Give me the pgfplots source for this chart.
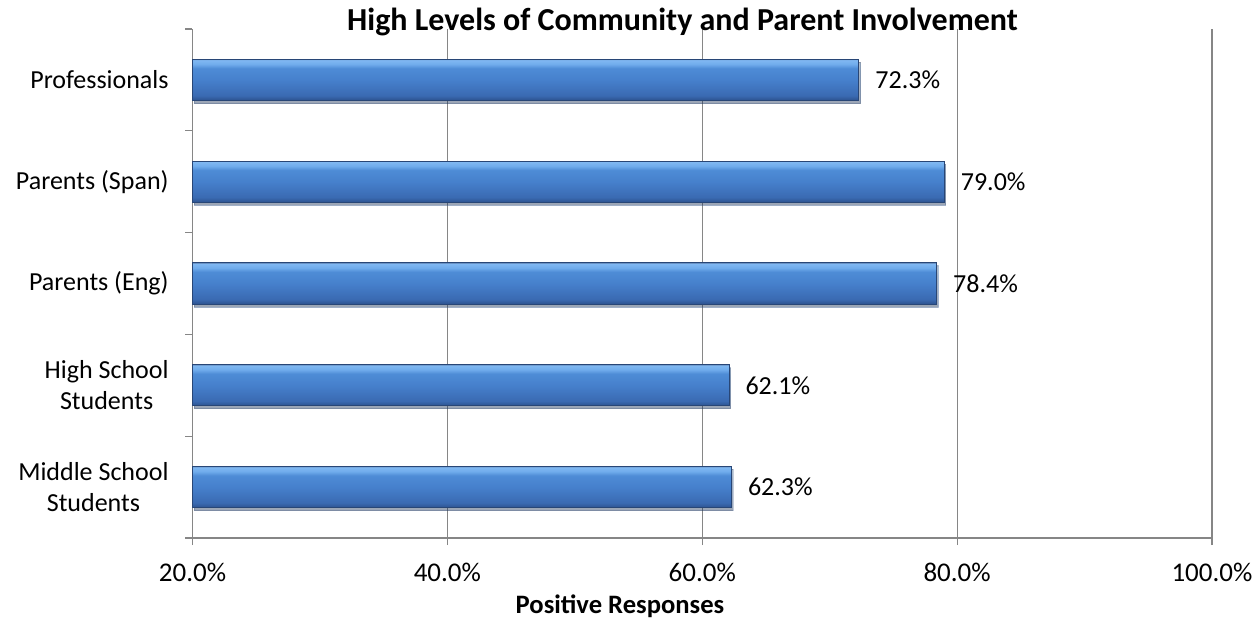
\documentclass[border=0pt]{standalone}
\usepackage{pgfplots}
\pgfplotsset{compat=1.18}
\usetikzlibrary{shadows}
\usepackage{fontspec}
\setmainfont{Carlito}
\definecolor{gridgray}{RGB}{134,134,134}
\definecolor{baredge}{RGB}{40,70,118}
\pgfdeclareverticalshading{barshade}{100bp}{
  color(0bp)=(rgb,255:red,44;green,82;blue,142);
  color(25bp)=(rgb,255:red,44;green,82;blue,142);
  color(31bp)=(rgb,255:red,58;green,106;blue,178);
  color(50bp)=(rgb,255:red,70;green,128;blue,204);
  color(64bp)=(rgb,255:red,78;green,140;blue,214);
  color(69bp)=(rgb,255:red,112;green,172;blue,236);
  color(74bp)=(rgb,255:red,128;green,184;blue,242);
  color(75bp)=(rgb,255:red,100;green,140;blue,190);
  color(100bp)=(rgb,255:red,100;green,140;blue,190)}
\pgfplotsset{
  mybar/.style={xbar, bar shift=0pt, draw=baredge, line width=0.5pt,
    shading=barshade,
    drop shadow={shadow xshift=0.8pt, shadow yshift=-1.5pt, opacity=0.25, fill=black},
    nodes near coords={\pgfmathprintnumber[fixed,fixed zerofill,precision=1,assume math mode=true]{\pgfplotspointmeta}\%},
    nodes near coords style={font=\fontsize{13}{15.5}\selectfont, anchor=west, inner sep=0pt, xshift=8pt, text=black},
    point meta=x}
}
\begin{document}
\begin{tikzpicture}
\path[use as bounding box] (-96.25pt,-39.5pt) rectangle (531.25pt,269pt);
\begin{axis}[
  at={(0pt,0pt)}, anchor=south west,
  scale only axis,
  width=509.75pt, height=254.5pt,
  xmin=20, xmax=100, ymin=0.5, ymax=5.5,
  xtick={20,40,60,80,100},
  xticklabels={20.0\%,40.0\%,60.0\%,80.0\%,100.0\%},
  ytick={1,2,3,4,5},
  yticklabels={{Middle School\\Students},{High School\\Students},{Parents (Eng)},{Parents (Span)},{Professionals}},
  minor ytick={0.5,1.5,2.5,3.5,4.5,5.5},
  axis lines*=left,
  axis line style={draw=gridgray, line width=0.6pt, -},
  xmajorgrids,
  grid style={draw=gridgray, line width=0.6pt},
  tick align=outside,
  major tick length=3.5pt,
  minor tick length=3.5pt,
  tick style={draw=gridgray, line width=0.6pt},
  major y tick style={draw=none},
  minor y tick style={draw=gridgray, line width=0.6pt},
  xticklabel style={font=\fontsize{13.5}{16}\selectfont, anchor=base, inner sep=0pt, yshift=-18pt},
  yticklabel style={font=\fontsize{13}{15.5}\selectfont, anchor=east, inner sep=0pt, align=center, xshift=-8.25pt},
  bar width=0.405,
  clip=false,
]
\addplot[mybar] coordinates {(62.3,1)};
\addplot[mybar] coordinates {(62.1,2)};
\addplot[mybar] coordinates {(78.4,3)};
\addplot[mybar] coordinates {(79.0,4)};
\addplot[mybar] coordinates {(72.3,5)};
\end{axis}
\node[anchor=base, font=\bfseries\fontsize{16}{19}\selectfont, inner sep=0pt] at (245pt,253.5pt) {High Levels of Community and Parent Involvement};
\node[anchor=base, font=\bfseries\fontsize{13.3}{16}\selectfont, inner sep=0pt] at (213.75pt,-37.5pt) {Positive Responses};
\end{tikzpicture}
\end{document}
